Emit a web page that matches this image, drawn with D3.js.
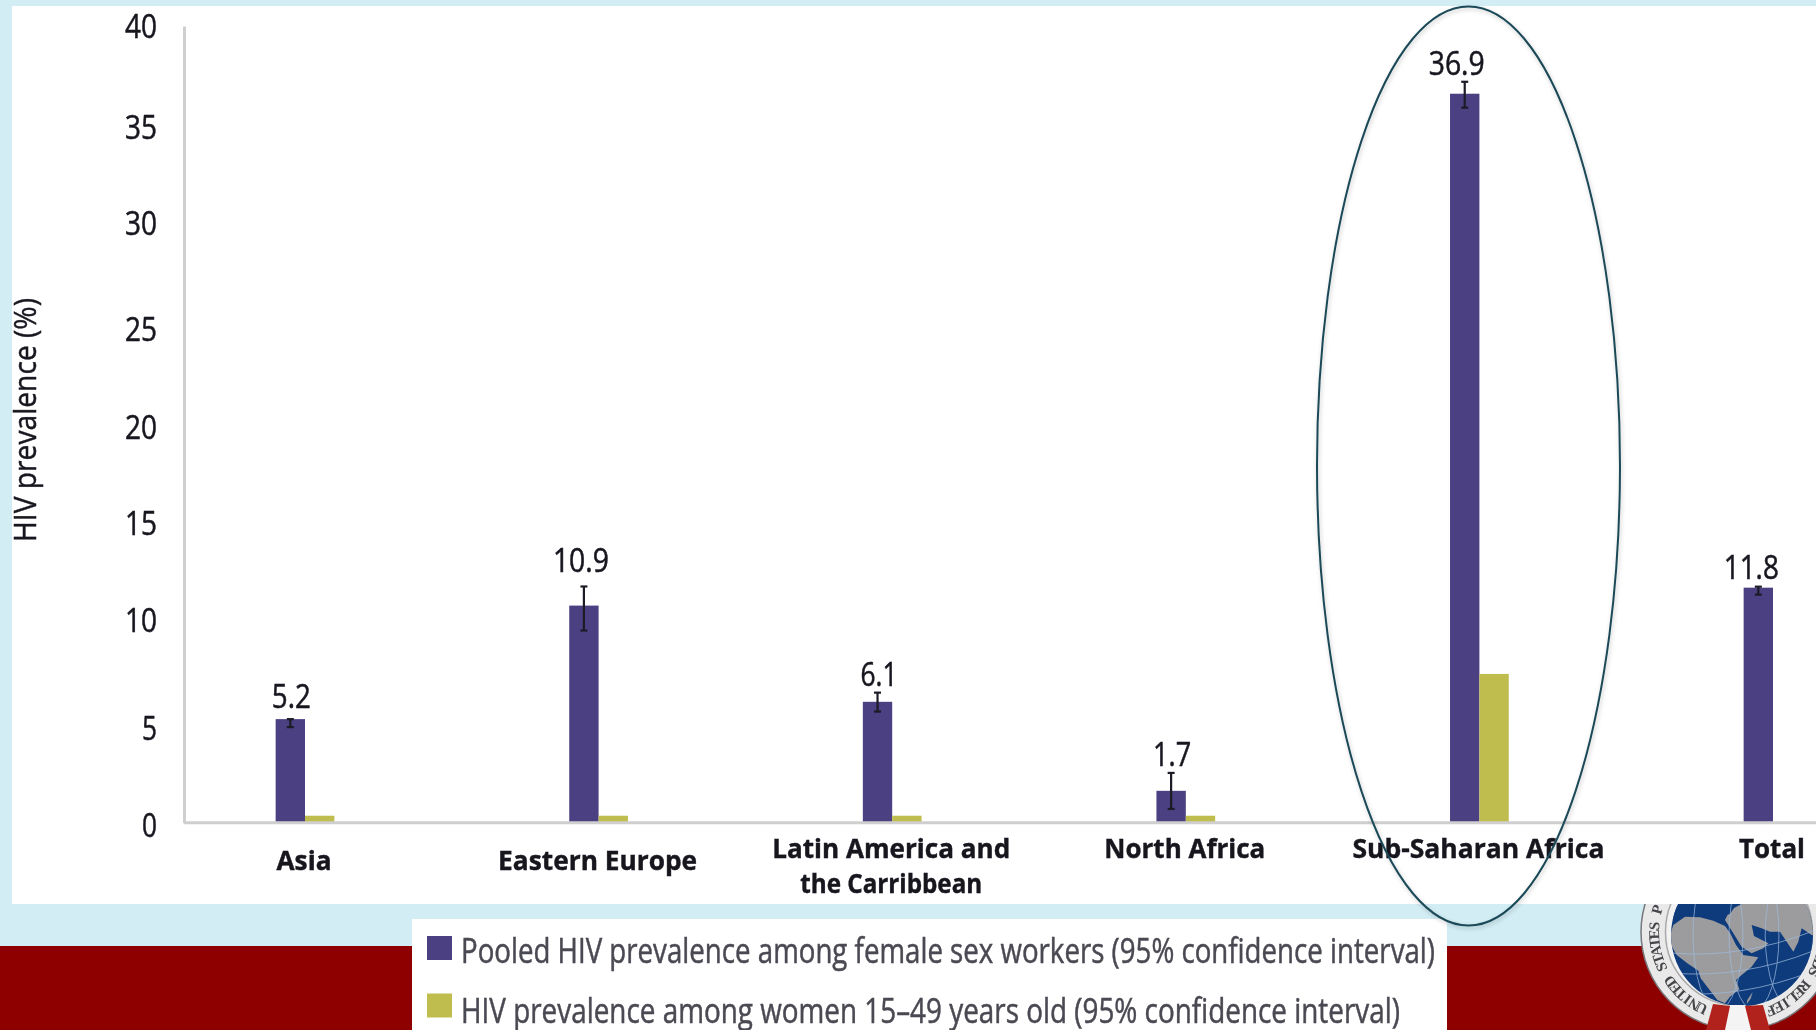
<!DOCTYPE html>
<html><head><meta charset="utf-8">
<script src="https://cdn.jsdelivr.net/npm/d3@7/dist/d3.min.js"></script>
<style>html,body{margin:0;padding:0;background:#d3edf5;overflow:hidden}svg{display:block}</style>
</head><body>
<svg id="c" width="1816" height="1030"></svg>
<script>
// ---- data ----
const categories = ["Asia","Eastern Europe","Latin America and the Carribbean","North Africa","Sub-Saharan Africa","Total"];
const categoryLines = [["Asia"],["Eastern Europe"],["Latin America and","the Carribbean"],["North Africa"],["Sub-Saharan Africa"],["Total"]];
const sexWorkerPrevalence = [5.2,10.9,6.07,1.6,36.6,11.8];
const womenPrevalence = [0.35,0.35,0.35,0.35,7.47,null];
const ciLow = [4.8,9.65,5.58,0.69,35.9,11.45];
const ciHigh = [5.2,11.86,6.53,2.5,37.2,11.85];
const valueLabels = ["5.2","10.9","6.1","1.7","36.9","11.8"];
const yTicks = [0,5,10,15,20,25,30,35,40];
const seriesNames = ["Pooled HIV prevalence among female sex workers (95% confidence interval)","HIV prevalence among women 15\u201349 years old (95% confidence interval)"];
const yTitle = "HIV prevalence (%)";
const sealText = "UNITED STATES PRESIDENT'S EMERGENCY PLAN FOR AIDS RELIEF";

// ---- layout tuning (hand-placed text in the source image) ----
const tickBaselineShift = {0:14,5:16,10:8,15:11,20:14,25:16,30:9,35:12.5,40:11};
const labelDx = [1,-3,1.5,1,-8,-7];
const labelDy = [-11,-14,-7,-7,-7,-8];
const labelWidth = [39,56,37,38,56,55];
const catBaseline = [870,870,858,858,858,858];
const catWidths = [[55],[199],[238,182],[161],[252],[66]];
const purple="#4b4082", olive="#bfbd4e", axisGrey="#cfcfcf", ink="#15151f";
const font="'Open Sans','Noto Sans',sans-serif";

const svg=d3.select("#c");
const defs=svg.append("defs");
defs.append("filter").attr("id","soft").attr("x","-10%").attr("y","-10%").attr("width","120%").attr("height","120%")
  .append("feGaussianBlur").attr("stdDeviation",0.55);
defs.append("filter").attr("id","softLogo").append("feGaussianBlur").attr("stdDeviation",0.7);
const sh=defs.append("filter").attr("id","shadow").attr("x","-5%").attr("y","-5%").attr("width","110%").attr("height","110%");
sh.append("feDropShadow").attr("dx",1).attr("dy",2).attr("stdDeviation",2).attr("flood-color","#000").attr("flood-opacity",0.22);

// background bands
svg.append("rect").attr("width",1816).attr("height",1030).attr("fill","#d3edf5");
svg.append("rect").attr("y",946).attr("width",1816).attr("height",84).attr("fill","#8e0000");

// ---- seal ----
(function(){
  const g=svg.append("g").attr("filter","url(#softLogo)");
  const cx=1739,cy=932,R=80;
  g.append("circle").attr("cx",cx).attr("cy",cy).attr("r",98).attr("fill","#e9e9e9").attr("stroke","#77777c").attr("stroke-width",1.5);
  g.append("circle").attr("cx",cx).attr("cy",cy).attr("r",73.5).attr("fill","#f2f2f2").attr("stroke","#a9a9a9").attr("stroke-width",1.5);
  // ring lettering, one glyph at a time; only what shows below the white panel
  const startDeg=-26, stepDeg=312/(sealText.length-1);
  sealText.split("").forEach((ch,k)=>{
    const a=startDeg-k*stepDeg, r=a*Math.PI/180;
    const px=cx+R*Math.sin(r), py=cy+R*Math.cos(r);
    if(ch===" "||py<908||px>1816) return;
    g.append("text").attr("transform",`translate(${px},${py}) rotate(${180-a})`).attr("text-anchor","middle")
      .attr("font-family","'Liberation Serif',serif").attr("font-weight","bold").attr("font-size",15).attr("fill","#45454a").text(ch);
  });
  // globe
  const gx=1742,gy=935,gr=71;
  const clip=defs.append("clipPath").attr("id","globeClip");
  clip.append("circle").attr("cx",gx).attr("cy",gy).attr("r",gr);
  g.append("circle").attr("cx",gx).attr("cy",gy).attr("r",gr).attr("fill","#0f3a7c");
  const land=g.append("g").attr("clip-path","url(#globeClip)").append("g").attr("transform","translate(1630,900) scale(0.3333)");
  land.append("path").attr("fill","#9c9c9f").attr("d",
   "M115 120 L130 75 L165 50 L210 52 L250 62 L285 78 L300 98 L318 135 L340 165 L385 172 L365 200 L335 225 L318 240 L328 268 L300 290 L285 310 L262 300 L235 265 L212 235 L205 212 L172 190 L140 165 Z");
  land.append("path").attr("fill","#9c9c9f").attr("d",
   "M285 60 L300 30 L340 10 L580 10 L580 110 L545 105 L515 85 L505 125 L490 155 L470 125 L450 95 L420 95 L395 85 L365 75 L372 108 L415 130 L400 145 L365 160 L335 140 L310 100 Z");
  land.append("path").attr("fill","#9c9c9f").attr("d","M352 300 L368 276 L362 296 L350 312 Z");
  land.append("path").attr("fill","#0f3a7c").attr("d","M125 12 L320 12 L300 42 L250 58 L190 42 L150 48 L125 60 Z");
  const grid=g.append("g").attr("clip-path","url(#globeClip)").attr("fill","none").attr("stroke","#9dbcdd").attr("stroke-width",0.9).attr("opacity",0.8);
  [[gx-24,78],[gx+12,78],[gx+52,90]].forEach(m=>grid.append("ellipse").attr("cx",m[0]).attr("cy",gy).attr("rx",m[1]*0.32).attr("ry",gr+4));
  [[gy+10],[gy+30],[gy+50]].forEach(p=>grid.append("path").attr("d",`M ${gx-gr} ${p[0]+8} Q ${gx} ${p[0]+14} ${gx+gr} ${p[0]-14}`));
  // ribbons
  g.append("path").attr("fill","#f4f4f4").attr("d","M1730 1005 L1745 1005 L1770 1030 L1706 1030 Z");
  g.append("path").attr("fill","#b2221a").attr("d","M1713 1004 L1730 1006 L1725 1030 L1706 1030 Z");
  g.append("path").attr("fill","#b2221a").attr("d","M1745 1006 L1763 1005 L1770 1030 L1751 1030 Z");
})();

// white panels
svg.append("rect").attr("x",12).attr("y",6).attr("width",1804).attr("height",898).attr("fill","#fff");
svg.append("rect").attr("x",412).attr("y",919).attr("width",1035).attr("height",111).attr("fill","#fff");

// ---- scales ----
const step=293.6, xStart=158.2, axisX=184, panelRight=1816;
const x=d3.scaleBand().domain(categories).range([xStart,xStart+step*categories.length]).paddingInner(0.8).paddingOuter(0.4);
const xSub=d3.scaleBand().domain([0,1]).range([0,x.bandwidth()]);
const y=d3.scaleLinear().domain([0,40]).range([822.7,26]);

const chart=svg.append("g").attr("filter","url(#soft)");

// bars
categories.forEach((c,i)=>{
  chart.append("rect").attr("x",x(c)+xSub(0)).attr("width",xSub.bandwidth()).attr("y",y(sexWorkerPrevalence[i])).attr("height",y(0)-y(sexWorkerPrevalence[i])).attr("fill",purple);
  if(womenPrevalence[i]!=null) chart.append("rect").attr("x",x(c)+xSub(1)).attr("width",xSub.bandwidth()).attr("y",y(womenPrevalence[i])).attr("height",y(0)-y(womenPrevalence[i])).attr("fill",olive);
});

// axes
const yAxis=d3.axisLeft(y).tickValues(yTicks).tickSize(0).tickPadding(0);
const gy=chart.append("g").attr("transform",`translate(${axisX},0)`).call(yAxis);
gy.select(".domain").attr("stroke",axisGrey).attr("stroke-width",3);
gy.selectAll("text").attr("x",157-axisX).attr("dy",null).attr("text-anchor","end")
  .attr("y",d=>tickBaselineShift[d]).attr("font-family",font).attr("font-size",32).attr("fill",ink)
  .attr("stroke",ink).attr("stroke-width",0.5)
  .attr("textLength",d=>d>=10?32:15).attr("lengthAdjust","spacingAndGlyphs");

const xAxis=d3.axisBottom(x).tickSize(0).tickFormat("");
const gx=chart.append("g").attr("transform",`translate(0,${y(0)})`).call(xAxis);
gx.select(".domain").remove();
gx.selectAll(".tick text").remove();
gx.selectAll(".tick").each(function(d,i){
  const t=d3.select(this);
  categoryLines[i].forEach((ln,j)=>{
    t.append("text").attr("x",-1).attr("y",catBaseline[i]-y(0)+j*35).attr("text-anchor","middle")
     .attr("font-family",font).attr("font-weight",700).attr("font-size",27).attr("fill",ink)
     .attr("stroke",ink).attr("stroke-width",0.4)
     .attr("textLength",catWidths[i][j]).attr("lengthAdjust","spacingAndGlyphs").text(ln);
  });
});
chart.append("line").attr("x1",axisX).attr("x2",panelRight).attr("y1",y(0)).attr("y2",y(0)).attr("stroke",axisGrey).attr("stroke-width",3);

// error bars
categories.forEach((c,i)=>{
  const cxp=x(c)+xSub(0)+xSub.bandwidth()/2;
  const e=chart.append("g").attr("stroke","#1b1b28").attr("stroke-width",2.2);
  e.append("line").attr("x1",cxp).attr("x2",cxp).attr("y1",y(ciLow[i])).attr("y2",y(ciHigh[i]));
  [ciLow[i],ciHigh[i]].forEach(v=>e.append("line").attr("x1",cxp-3.5).attr("x2",cxp+3.5).attr("y1",y(v)).attr("y2",y(v)));
  chart.append("text").attr("x",cxp+labelDx[i]).attr("y",y(ciHigh[i])+labelDy[i]).attr("text-anchor","middle")
    .attr("font-family",font).attr("font-size",32).attr("fill",ink)
    .attr("stroke",ink).attr("stroke-width",0.5)
    .attr("textLength",labelWidth[i]).attr("lengthAdjust","spacingAndGlyphs").text(valueLabels[i]);
});

// y title
chart.append("text").attr("transform","translate(36,420) rotate(-90)").attr("text-anchor","middle")
  .attr("font-family",font).attr("font-size",31).attr("fill",ink)
  .attr("stroke",ink).attr("stroke-width",0.4)
  .attr("textLength",244).attr("lengthAdjust","spacingAndGlyphs").text(yTitle);

// legend
const legend=svg.append("g").attr("filter","url(#soft)");
const legendColor=[purple,olive], legendSwatchY=[936,993.5], legendBase=[963,1023], legendW=[974,939];
seriesNames.forEach((s,i)=>{
  legend.append("rect").attr("x",427).attr("y",legendSwatchY[i]).attr("width",25).attr("height",24).attr("fill",legendColor[i]);
  legend.append("text").attr("x",461).attr("y",legendBase[i]).attr("font-family",font).attr("font-size",34).attr("fill","#4a4a52")
    .attr("stroke","#4a4a52").attr("stroke-width",0.5)
    .attr("textLength",legendW[i]).attr("lengthAdjust","spacingAndGlyphs").text(s);
});

// highlight ellipse
svg.append("ellipse").attr("cx",1468.5).attr("cy",466).attr("rx",151.5).attr("ry",459.5)
  .attr("fill","none").attr("stroke","#1c4a58").attr("stroke-width",2).attr("filter","url(#shadow)");
</script>
</body></html>
